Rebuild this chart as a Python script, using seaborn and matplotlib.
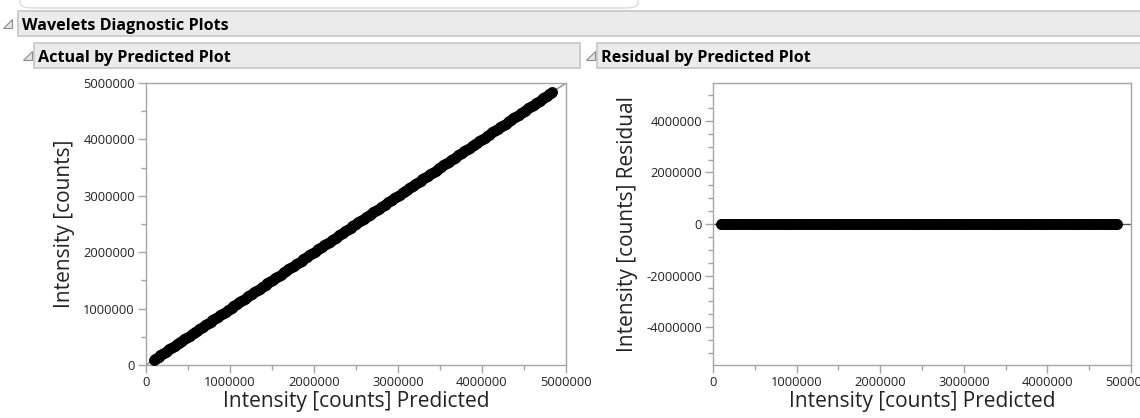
import numpy as np
import pandas as pd
import seaborn as sns
import matplotlib.pyplot as plt
from matplotlib.patches import Rectangle, FancyBboxPatch, Polygon
from matplotlib.ticker import MultipleLocator

sns.set_theme(style="white")
plt.rcParams["font.family"] = ["Open Sans", "DejaVu Sans"]

# Predicted intensity [counts], first batch of observations
predicted_a = [
    92000, 131500, 168000, 214000, 251000, 297500, 342000, 388000, 431000, 476500,
    522000, 566000, 611500, 655000, 702000, 748000, 791000, 837500, 881000, 926000,
    973000, 1018000, 1062000, 1108000, 1151000, 1197000, 1243000, 1288000, 1332000, 1377000,
    1423000, 1468000, 1512000, 1559000, 1603000, 1648000, 1694000, 1739000, 1783000, 1829000,
    1874000, 1918000, 1964000, 2009000, 2053000, 2099000, 2144000, 2188000, 2234000, 2279000,
    2323000, 2369000, 2414000, 2458000, 2504000, 2549000, 2593000, 2639000, 2684000, 2728000,
    2774000, 2819000, 2863000, 2909000, 2954000, 2998000, 3044000, 3089000, 3133000, 3179000,
    3224000, 3268000, 3314000, 3359000, 3403000, 3449000, 3494000, 3538000, 3584000, 3629000,
    3673000, 3719000, 3764000, 3808000, 3854000, 3899000, 3943000, 3989000, 4034000, 4078000,
    4124000, 4169000, 4213000, 4259000, 4304000, 4348000, 4394000, 4439000, 4483000, 4529000,
    4574000, 4618000, 4664000, 4709000, 4753000, 4799000, 4836000,
]
# Predicted intensity [counts], second batch of observations
predicted_b = [
    108000, 149000, 192500, 233000, 276000, 319500, 365000, 409000, 453500, 499000,
    544000, 589000, 633500, 679000, 725000, 769500, 814000, 859000, 903500, 949000,
    995500, 1040000, 1085000, 1129500, 1174000, 1220000, 1265500, 1310000, 1354500, 1400000,
    1445500, 1490000, 1535500, 1581000, 1625500, 1671000, 1716500, 1761000, 1806000, 1851500,
    1896000, 1941000, 1986500, 2031000, 2076000, 2121500, 2166000, 2211000, 2256500, 2301000,
    2346000, 2391500, 2436000, 2481000, 2526500, 2571000, 2616000, 2661500, 2706000, 2751000,
    2796500, 2841000, 2886000, 2931500, 2976000, 3021000, 3066500, 3111000, 3156000, 3201500,
    3246000, 3291000, 3336500, 3381000, 3426000, 3471500, 3516000, 3561000, 3606500, 3651000,
    3696000, 3741500, 3786000, 3831000, 3876500, 3921000, 3966000, 4011500, 4056000, 4101000,
    4146500, 4191000, 4236000, 4281500, 4326000, 4371000, 4416500, 4461000, 4506000, 4551500,
    4596000, 4641000, 4686500, 4731000, 4776000, 4818000,
]
# Residuals (actual - predicted) for each batch, all close to zero
residual_a = [
    1200, -800, 500, -300, 900, -1100, 400, 700, -600, 200,
    -900, 1000, -200, 300, -700, 600, 100, -400, 800, -500,
    1300, -1000, 200, 500, -300, 700, -900, 400, -100, 600,
    -800, 300, 900, -600, 200, -200, 1100, -700, 400, -300,
    500, -900, 800, -100, 300, -600, 700, -400, 1000, -800,
    200, 600, -300, 900, -500, 100, -700, 400, 800, -200,
    -1000, 500, 300, -600, 700, -100, 900, -400, 200, -800,
    600, -300, 1100, -500, 400, -900, 100, 700, -200, 300,
    -600, 800, -100, 500, -700, 1000, -300, 200, -800, 600,
    -400, 900, -200, 300, -1100, 700, -500, 100, 800, -300,
    400, -700, 600, -100, 900, -400, 200,
]
residual_b = [
    -500, 700, -200, 1000, -600, 300, -900, 100, 600, -400,
    800, -300, 500, -1000, 200, -700, 900, -100, 400, -800,
    300, 600, -500, 100, 1100, -300, 700, -600, 200, -900,
    500, -200, 800, -400, 100, 1000, -700, 300, -100, 600,
    -500, 900, -300, 200, -800, 400, -100, 700, -600, 300,
    1000, -400, 500, -200, 800, -900, 100, -300, 600, -700,
    400, -100, 900, -500, 200, -800, 300, 700, -400, 100,
    -600, 1100, -200, 500, -900, 300, 800, -100, 400, -700,
    200, -500, 900, -300, 600, -100, 1000, -800, 300, -400,
    700, -200, 500, -1000, 100, 800, -600, 400, -300, 900,
    -500, 200, -700, 600, -100, 300,
]

predicted = predicted_a + predicted_b
residual = residual_a + residual_b
actual = [p + r for p, r in zip(predicted, residual)]

df = pd.DataFrame({"predicted": predicted, "actual": actual, "residual": residual})

W, H = 1140, 418
fig = plt.figure(figsize=(W / 100, H / 100), dpi=100)
fig.patch.set_facecolor("white")


def fx(px):
    return px / W


def fy(py):
    return 1 - py / H


def header(x0, y0, x1, y1, text, tri_x):
    fig.patches.append(Rectangle((fx(x0), fy(y1)), fx(x1 - x0), (y1 - y0) / H,
                                 transform=fig.transFigure, facecolor="#ebebeb",
                                 edgecolor="#c6c6c6", linewidth=1.2, zorder=0))
    fig.text(fx(x0 + 4), fy((y0 + y1) / 2 + 2), text, fontsize=11.6, fontweight="bold",
             color="black", ha="left", va="center")
    cy = (y0 + y1) / 2
    tri = Polygon([(fx(tri_x + 5), fy(cy - 5)), (fx(tri_x + 5), fy(cy + 4)),
                   (fx(tri_x - 4), fy(cy + 4))], closed=True, transform=fig.transFigure,
                  facecolor="#e4e4e4", edgecolor="#8c8c8c", linewidth=0.8)
    fig.patches.append(tri)


# Outline of the panel above
fig.patches.append(FancyBboxPatch((fx(20), fy(8)), fx(618), 0.1,
                                  boxstyle="round,pad=0,rounding_size=0.012",
                                  transform=fig.transFigure, facecolor="none",
                                  edgecolor="#dcdcdc", linewidth=1.0))

header(18, 11, 1142, 36, "Wavelets Diagnostic Plots", 7)
header(34, 43, 580, 68, "Actual by Predicted Plot", 27)
header(597, 43, 1142, 68, "Residual by Predicted Plot", 590)

ax1 = fig.add_axes([fx(146), fy(365), fx(566 - 146), (365 - 83) / H])
ax2 = fig.add_axes([fx(713), fy(365), fx(1131 - 713), (365 - 83) / H])

spine_c = "#a6a6a6"
for ax in (ax1, ax2):
    ax.set_facecolor("white")
    for s in ax.spines.values():
        s.set_color(spine_c)
        s.set_linewidth(1.0)
        s.set_visible(True)
    ax.xaxis.set_major_locator(MultipleLocator(1000000))
    ax.xaxis.set_minor_locator(MultipleLocator(500000))
    ax.yaxis.set_minor_locator(MultipleLocator(500000))
    ax.tick_params(which="major", direction="out", length=6, width=1, color=spine_c,
                   labelsize=9.3, labelcolor="#222222", bottom=True, left=True, pad=2)
    ax.tick_params(which="minor", direction="out", length=3.5, width=1, color=spine_c,
                   bottom=True, left=True)
    ax.set_xlim(0, 5000000)
    ax.grid(False)

# Actual by predicted
ax1.set_ylim(0, 5000000)
ax1.yaxis.set_major_locator(MultipleLocator(1000000))
ax1.plot([0, 5000000], [0, 5000000], color="#8a8a8a", linewidth=1.0, zorder=1)
sns.scatterplot(data=df, x="predicted", y="actual", ax=ax1, color="black",
                s=62, edgecolor="black", linewidth=0, zorder=3)

# Residual by predicted
ax2.set_ylim(-5470000, 5470000)
ax2.yaxis.set_major_locator(MultipleLocator(2000000))
ax2.axhline(0, color="#555555", linewidth=1.0, zorder=1)
sns.scatterplot(data=df, x="predicted", y="residual", ax=ax2, color="black",
                s=62, edgecolor="black", linewidth=0, zorder=3)

for ax in (ax1, ax2):
    ax.xaxis.set_major_formatter(plt.FuncFormatter(lambda v, p: f"{int(round(v))}"))
    ax.yaxis.set_major_formatter(plt.FuncFormatter(lambda v, p: f"{int(round(v))}"))
    ax.set_xlabel("Intensity [counts] Predicted", fontsize=15, color="#222222", labelpad=1)

ax1.set_ylabel("Intensity [counts]", fontsize=15, color="#222222", labelpad=6)
ax2.set_ylabel("Intensity [counts] Residual", fontsize=15, color="#222222", labelpad=6)

fig.savefig("out.png", dpi=100, facecolor="white")
